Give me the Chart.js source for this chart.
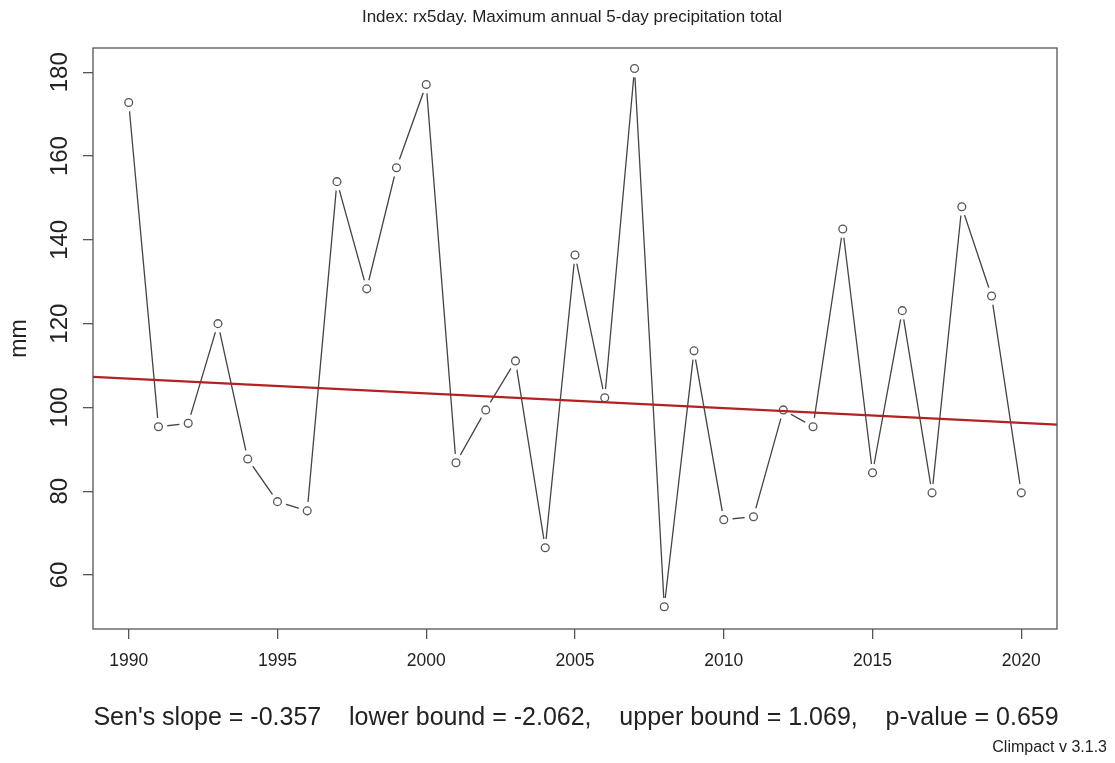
<!DOCTYPE html>
<html>
<head>
<meta charset="utf-8">
<script src="https://cdn.jsdelivr.net/npm/chart.js@4.4.1/dist/chart.umd.min.js"></script>
<style>
  body { margin: 0; background: #fff; }
  #wrap { width: 1115px; height: 763px; position: relative; }
</style>
</head>
<body>
<div id="wrap"><canvas id="chart"></canvas></div>
<script>
// rx5day values
const years = [1990, 1991, 1992, 1993, 1994, 1995, 1996, 1997, 1998, 1999,
               2000, 2001, 2002, 2003, 2004, 2005, 2006, 2007, 2008, 2009,
               2010, 2011, 2012, 2013, 2014, 2015, 2016, 2017, 2018, 2019, 2020];
const rx5day = [172.8, 95.4, 96.2, 120.0, 87.7, 77.5, 75.3, 153.9, 128.3, 157.2,
                177.1, 86.8, 99.4, 111.1, 66.5, 136.4, 102.3, 180.9, 52.4, 113.5,
                73.2, 73.9, 99.4, 95.4, 142.6, 84.4, 123.1, 79.6, 147.9, 126.6, 79.6];

// Sen's slope trend line, ends at the plot edges
const trendX = [1988.8, 2021.2];
const trendY = [107.3, 95.9];

const xTicks = [1990, 1995, 2000, 2005, 2010, 2015, 2020];
const yTicks = [60, 80, 100, 120, 140, 160, 180];
const xRange = [1988.8, 2021.2];
const yRange = [47.1, 185.8];

const titleText = 'Index: rx5day. Maximum annual 5-day precipitation total';
const yTitle = 'mm';
const statsText = "Sen's slope = -0.357    lower bound = -2.062,    upper bound = 1.069,    p-value = 0.659";
const creditText = 'Climpact v 3.1.3';

const FONT = '"Liberation Sans", Arial, Helvetica, sans-serif';
const pts = years.map((y, i) => ({ x: y, y: rx5day[i] }));

// extra texts: title, rotated y labels, stats line, credit, frame
const decorations = {
    id: 'decorations',
    afterDraw(chart) {
        const ctx = chart.ctx;
        const area = chart.chartArea;
        const yScale = chart.scales.y;
        ctx.save();
        ctx.strokeStyle = '#555';
        ctx.lineWidth = 1.3;
        ctx.strokeRect(area.left, area.top, area.right - area.left, area.bottom - area.top);

        ctx.fillStyle = '#222';
        ctx.textAlign = 'center';
        ctx.textBaseline = 'middle';
        ctx.font = '17px ' + FONT;
        ctx.fillText(titleText, 572, 17);

        ctx.font = '24px ' + FONT;
        yTicks.forEach(v => {
            ctx.save();
            ctx.translate(60, yScale.getPixelForValue(v));
            ctx.rotate(-Math.PI / 2);
            ctx.fillText(String(v), 0, 0);
            ctx.restore();
        });

        ctx.save();
        ctx.font = '23px ' + FONT;
        ctx.translate(20, (area.top + area.bottom) / 2);
        ctx.rotate(-Math.PI / 2);
        ctx.fillText(yTitle, 0, 0);
        ctx.restore();

        ctx.font = '25px ' + FONT;
        ctx.fillText(statsText, 576, 718);

        ctx.font = '16px ' + FONT;
        ctx.textAlign = 'right';
        ctx.textBaseline = 'alphabetic';
        ctx.fillText(creditText, 1107, 752);
        ctx.restore();
    }
};

new Chart(document.getElementById('chart'), {
    type: 'scatter',
    data: {
        datasets: [
            {   // trend line on top
                data: trendX.map((x, i) => ({ x: x, y: trendY[i] })),
                showLine: true,
                borderColor: '#b22222',
                borderWidth: 2.2,
                pointRadius: 0,
                order: 0
            },
            {   // open circles
                data: pts,
                showLine: false,
                pointRadius: 3.9,
                pointBorderWidth: 1.3,
                pointBorderColor: '#555',
                pointBackgroundColor: '#fff',
                order: 1
            },
            {   // white gaps round the points (R type="b")
                data: pts,
                showLine: false,
                pointRadius: 9,
                pointBorderWidth: 0,
                pointBackgroundColor: '#fff',
                pointBorderColor: '#fff',
                order: 2
            },
            {   // connecting line
                data: pts,
                showLine: true,
                borderColor: '#444',
                borderWidth: 1.3,
                pointRadius: 0,
                order: 3
            }
        ]
    },
    options: {
        responsive: true,
        maintainAspectRatio: false,
        animation: false,
        layout: { padding: { left: 0, right: 58, top: 48, bottom: 0 } },
        plugins: { legend: { display: false }, tooltip: { enabled: false } },
        scales: {
            x: {
                type: 'linear',
                min: xRange[0],
                max: xRange[1],
                afterBuildTicks: s => { s.ticks = xTicks.map(v => ({ value: v })); },
                afterFit: s => { s.height = 134; },
                grid: { drawOnChartArea: false, color: '#555', lineWidth: 1.3, tickLength: 10 },
                border: { display: false },
                ticks: {
                    color: '#222',
                    padding: 12,
                    maxRotation: 0,
                    font: { family: FONT, size: 17.5 },
                    callback: v => String(v)
                }
            },
            y: {
                min: yRange[0],
                max: yRange[1],
                afterBuildTicks: s => { s.ticks = yTicks.map(v => ({ value: v })); },
                afterFit: s => { s.width = 93; },
                grid: { drawOnChartArea: false, color: '#555', lineWidth: 1.3, tickLength: 10 },
                border: { display: false },
                ticks: { color: 'rgba(0,0,0,0)', font: { family: FONT, size: 22 } }
            }
        }
    },
    plugins: [decorations]
});
</script>
</body>
</html>
